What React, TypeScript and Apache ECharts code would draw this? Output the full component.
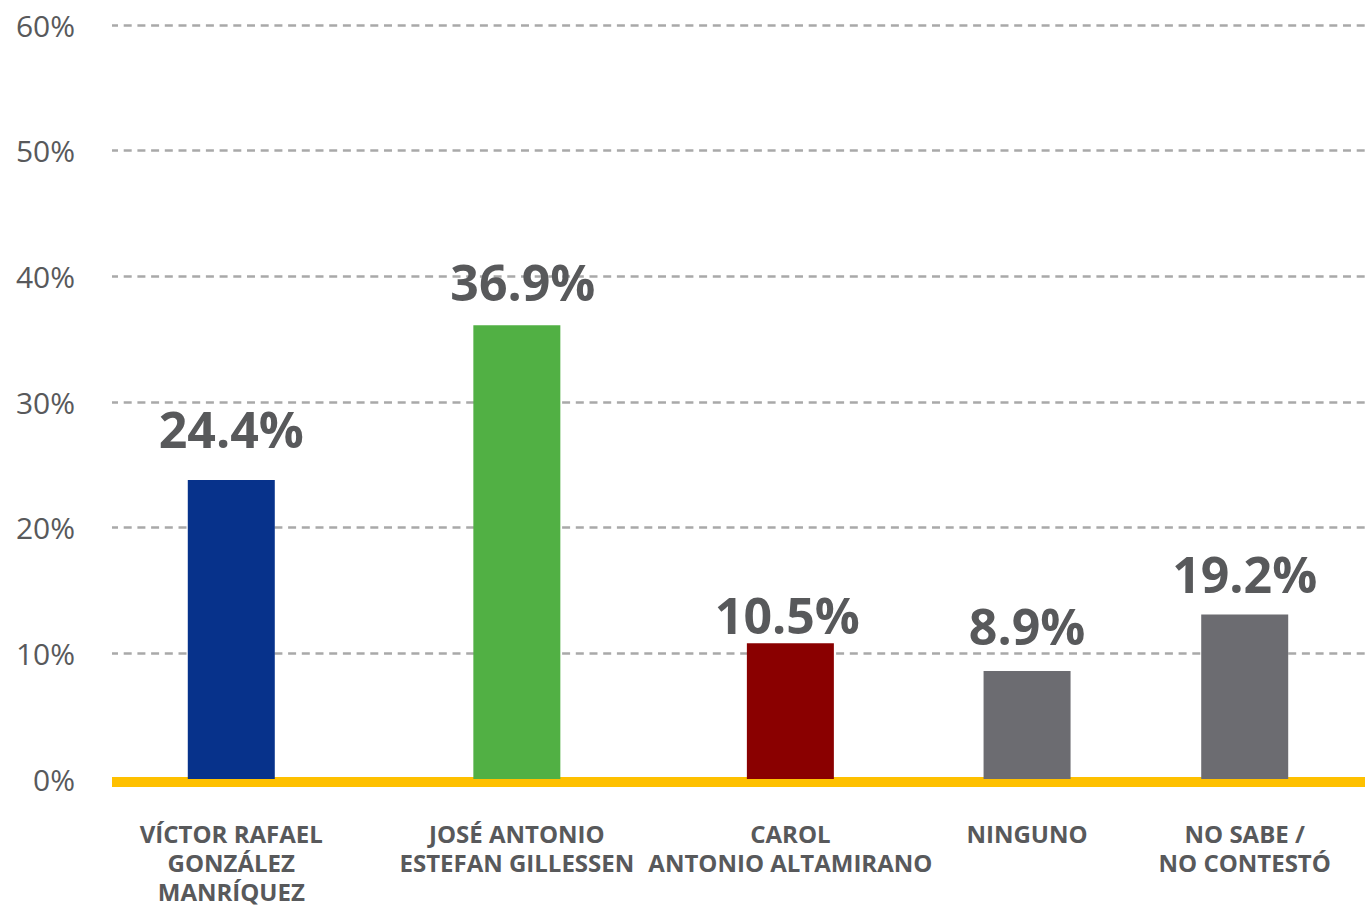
import React, { useEffect, useRef } from "react";
import * as echarts from "echarts";

// ---- data ----
const categories: string[] = [
  "VÍCTOR RAFAEL\nGONZÁLEZ\nMANRÍQUEZ",
  "JOSÉ ANTONIO\nESTEFAN GILLESSEN",
  "CAROL\nANTONIO ALTAMIRANO",
  "NINGUNO",
  "NO SABE /\nNO CONTESTÓ",
];
// bar heights as drawn in the reference (percent)
const barValues: number[] = [23.8, 36.1, 10.8, 8.6, 13.1];
// value labels as printed in the reference
const valueLabels: string[] = ["24.4%", "36.9%", "10.5%", "8.9%", "19.2%"];
const yTicks: number[] = [0, 10, 20, 30, 40, 50, 60];

// ---- layout (not data) ----
const slotPositions: number[] = [9.52, 32.31, 54.14, 73.03, 90.4]; // % of plot width
const labelNudges: number[][] = [
  [0, -26],
  [6, -18],
  [-3, -3],
  [0, -20],
  [0, -15],
];
const barColors: string[] = ["#07328B", "#51B044", "#8A0000", "#6C6C71", "#6C6C71"];

const FONT = "'Open Sans', 'Noto Sans', sans-serif";
const TEXT = "#58595B";

export default function App() {
  const ref = useRef<HTMLDivElement>(null);
  useEffect(() => {
    if (!ref.current) return;
    const chart = echarts.init(ref.current, undefined, { renderer: "svg" });
    const nameAt = (v: number) => {
      let best = 0;
      slotPositions.forEach((p, i) => {
        if (Math.abs(p - v) < Math.abs(slotPositions[best] - v)) best = i;
      });
      return categories[best];
    };
    chart.setOption({
      animation: false,
      backgroundColor: "#ffffff",
      grid: { left: 112, right: 0, top: 25, bottom: 126, containLabel: false },
      xAxis: {
        type: "value",
        min: 0,
        max: 100,
        offset: 3,
        axisLine: {
          show: true,
          onZero: false,
          lineStyle: { color: "#FEC000", width: 10, cap: "butt" },
        },
        axisTick: { show: false },
        splitLine: { show: false },
        axisLabel: {
          customValues: slotPositions,
          formatter: (v: number) => nameAt(v),
          fontFamily: FONT,
          fontWeight: "bold",
          fontSize: 24,
          lineHeight: 29,
          color: TEXT,
          margin: 37,
          align: "center",
          verticalAlign: "top",
        },
      },
      yAxis: {
        type: "value",
        min: yTicks[0],
        max: yTicks[yTicks.length - 1],
        interval: 10,
        axisLine: { show: false },
        axisTick: { show: false },
        splitLine: {
          show: true,
          lineStyle: { color: "#A9A9A9", width: 2.5, type: [8, 5.7], dashOffset: 2 },
        },
        axisLabel: {
          formatter: "{value}%",
          fontFamily: FONT,
          fontSize: 30,
          color: TEXT,
          margin: 37,
        },
      },
      series: [
        {
          type: "bar",
          barWidth: 87,
          z: 5,
          data: barValues.map((v, i) => ({
            value: [slotPositions[i], v],
            itemStyle: { color: barColors[i] },
            label: {
              show: true,
              position: "top",
              distance: 0,
              offset: labelNudges[i],
              formatter: () => valueLabels[i],
              fontFamily: FONT,
              fontWeight: "bold",
              fontSize: 50,
              lineHeight: 50,
              color: TEXT,
            },
          })),
        },
      ],
    });
    return () => chart.dispose();
  }, []);
  return (
    <div
      ref={ref}
      style={{ position: "absolute", left: 0, top: 0, width: 1365, height: 906 }}
    />
  );
}
